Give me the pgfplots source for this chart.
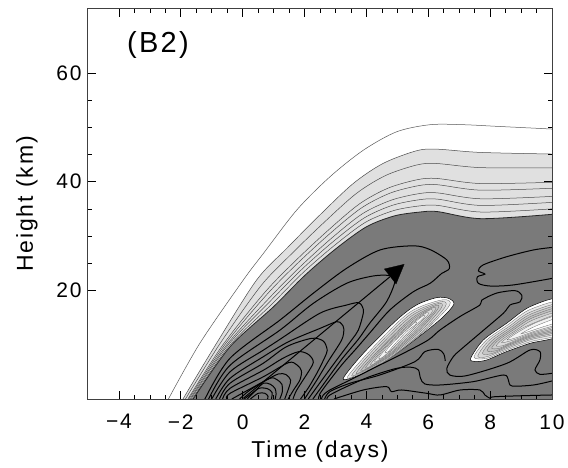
\documentclass[border=0pt]{standalone}
\usepackage{pgfplots}
\pgfplotsset{compat=1.18}
\usepackage{fontspec}
\setmainfont{Liberation Sans}[LetterSpace=8]
\definecolor{lg}{gray}{0.88}
\definecolor{dg}{gray}{0.48}
\definecolor{fr}{gray}{0.25}
\begin{document}
\begin{tikzpicture}
\path[use as bounding box] (-88pt,-68pt) rectangle (480pt,399pt);
\begin{axis}[
  at={(0pt,0pt)},anchor=south west,
  scale only axis,width=464pt,height=390pt,
  xmin=-5,xmax=10,ymin=0,ymax=71.8,
  axis on top,clip=true,
  axis line style={fr,line width=1pt},
  xtick={-4,-2,0,2,4,6,8,10},
  xticklabels={−4,−2,0,2,4,6,8,10},
  ytick={20,40,60},
  yticklabels={20,40,60},
  minor x tick num=3,minor y tick num=3,
  tick style={black,line width=0.7pt},
  major tick length=8pt,minor tick length=4pt,
  tick align=inside,
  tick label style={font=\fontsize{21}{23}\selectfont},
  xticklabel style={yshift=-12pt},
  yticklabel style={xshift=-3pt},
  xlabel={Time (days)},
  ylabel={Height (km)},
  xlabel style={font=\fontsize{23}{25}\selectfont,at={(axis description cs:.5,-.1359)},anchor=center},
  ylabel style={font=\fontsize{23}{25}\selectfont,at={(axis description cs:-.1315,.5)},anchor=center},
  every axis plot/.append style={no markers},
]
% light band
\addplot[fill=lg,draw=none,smooth] coordinates {(-1.93,0)(-.84,10.3)(.45,21.9)(1.42,27.7)(2.5,33.9)(3.58,39.7)(4.55,43.4)(5.62,45.7)(6.27,46)(7.67,45.4)(10,45.1)} \closedcycle;
% dark region
\addplot[fill=dg,draw=none,smooth] coordinates {(-1.6,0)(-.41,9.6)(1,17)(2,22.7)(3,27.6)(4,31.7)(4.9,33.7)(5.7,34.4)(6.3,34.5)(7.7,33.2)(10,34)} \closedcycle;
% outer contours
\addplot[black!65,line width=.5pt,smooth] coordinates {(-2.4,0)(-1.38,10.3)(.02,21.9)(.67,26.8)(1.75,34.8)(2.82,40.9)(3.9,45.8)(4.98,49.2)(6.06,50.5)(7.13,50.5)(8.21,50.2)(10,49.7)};
\addplot[black!70,line width=.5pt,smooth] coordinates {(-1.93,0)(-.84,10.3)(.45,21.9)(1.42,27.7)(2.5,33.9)(3.58,39.7)(4.55,43.4)(5.62,45.7)(6.27,46)(7.67,45.4)(10,45.1)};
\addplot[black!70,line width=.5pt,smooth] coordinates {(-1.85,0)(-.74,10.14)(.58,20.77)(1.55,26.55)(2.62,32.45)(3.68,37.86)(4.63,41.17)(5.64,43.1)(6.28,43.35)(7.68,42.6)(10,42.55)};
\addplot[black!70,line width=.5pt,smooth] coordinates {(-1.77,0)(-.64,9.97)(.71,19.6)(1.69,25.35)(2.74,30.94)(3.78,35.94)(4.71,38.84)(5.66,40.39)(6.28,40.6)(7.68,39.67)(10,39.9)};
\addplot[black!70,line width=.5pt,smooth] coordinates {(-1.74,0)(-.59,9.9)(.76,19.1)(1.75,24.85)(2.79,30.3)(3.82,35.1)(4.75,37.87)(5.67,39.26)(6.29,39.45)(7.69,38.45)(10,38.8)};
\addplot[black!70,line width=.5pt,smooth] coordinates {(-1.7,0)(-.54,9.81)(.84,18.47)(1.83,24.2)(2.85,29.49)(3.87,34.1)(4.8,36.6)(5.68,37.79)(6.29,37.95)(7.69,36.86)(10,37.3)};
\addplot[black!70,line width=.5pt,smooth] coordinates {(-1.67,0)(-.5,9.74)(.89,18)(1.88,23.7)(2.9,28.86)(3.92,33.3)(4.83,35.64)(5.68,36.66)(6.29,36.8)(7.69,35.64)(10,36.2)};
\addplot[black!70,line width=.5pt,smooth] coordinates {(-1.63,0)(-.45,9.67)(.95,17.5)(1.94,23.2)(2.95,28.2)(3.96,32.5)(4.87,34.67)(5.69,35.53)(6.3,35.65)(7.7,34.42)(10,35)};
\addplot[black!85,line width=.8pt,smooth] coordinates {(-1.6,0)(-.41,9.6)(1,17)(2,22.7)(3,27.6)(4,31.7)(4.9,33.7)(5.7,34.4)(6.3,34.5)(7.7,33.2)(10,34)};
% lobe 1
\pgfplotsset{lob/.style={draw=black!60,line width=.3pt,smooth cycle}}
\addplot[fill=white,draw=black,line width=.5pt,smooth cycle] coordinates {(3.25,3.8)(3.9,8.41)(4.98,14.55)(5.62,17.31)(6.27,18.66)(6.65,18.54)(6.83,17.49)(6.49,15.16)(5.84,12.09)(4.98,8.41)(4.12,5.34)(3.58,3.99)};
\addplot[lob,fill=black!10] coordinates {(3.4,4.2)(4.35,10.3)(5.42,16.05)(6.45,18.25)(6.69,17.25)(5.82,12.2)(4.62,7)(3.67,4.35)};
\addplot[lob,fill=black!16] coordinates {(3.55,4.6)(4.4,10.1)(5.45,15.7)(6.4,17.9)(6.55,17)(5.8,12.3)(4.65,7.2)(3.75,4.7)};
\addplot[lob,fill=black!22] coordinates {(3.7,5.05)(4.47,10)(5.47,15.35)(6.32,17.55)(6.42,16.75)(5.75,12.45)(4.67,7.5)(3.85,5.05)};
\addplot[lob,fill=black!25] coordinates {(3.85,5.5)(4.55,9.9)(5.5,15)(6.25,17.2)(6.3,16.5)(5.7,12.6)(4.7,7.8)(3.95,5.4)};
\addplot[lob,fill=black!20] coordinates {(4,6)(4.6,9.9)(5.5,14.65)(6.15,16.8)(6.2,16.15)(5.65,12.7)(4.75,8.2)(4.1,5.95)};
\addplot[lob,fill=black!15] coordinates {(4.15,6.5)(4.65,9.9)(5.5,14.3)(6.05,16.4)(6.1,15.8)(5.6,12.8)(4.8,8.6)(4.25,6.5)};
\addplot[lob,fill=black!10] coordinates {(4.27,7.05)(4.7,9.95)(5.47,13.95)(5.95,15.9)(5.97,15.35)(5.52,12.8)(4.82,8.95)(4.37,7.05)};
\addplot[lob,fill=black!5] coordinates {(4.4,7.6)(4.75,10)(5.45,13.6)(5.85,15.4)(5.85,14.9)(5.45,12.8)(4.85,9.3)(4.5,7.6)};
\addplot[lob,fill=white] coordinates {(4.6,8.6)(4.85,10.3)(5.35,13)(5.6,14.2)(5.6,13.8)(5.3,12.4)(4.9,10)(4.7,8.7)};
% lobe 2
\addplot[fill=white,draw=black,line width=.5pt,smooth cycle] coordinates {(7.37,7.49)(7.78,10.86)(8.53,13.93)(9.29,17)(10.3,18.4)(10.3,12)(9.29,10.25)(8.53,8.72)(7.89,7.18)(7.51,6.9)};
\addplot[lob,fill=black!10] coordinates {(7.48,7.7)(7.87,10.78)(8.56,13.6)(9.3,16.5)(10.4,18)(10.4,12.35)(9.3,10.55)(8.54,9)(7.9,7.5)};
\addplot[lob,fill=black!16] coordinates {(7.6,7.9)(7.95,10.7)(8.6,13.3)(9.3,16)(10.4,17.6)(10.4,12.7)(9.3,10.9)(8.55,9.3)(7.9,7.8)};
\addplot[lob,fill=black!22] coordinates {(7.75,8.4)(8.05,10.7)(8.65,13.1)(9.32,15.65)(10.4,17.3)(10.4,12.95)(9.3,11.15)(8.57,9.6)(8.05,8.35)};
\addplot[lob,fill=black!25] coordinates {(7.9,8.9)(8.15,10.7)(8.7,12.9)(9.35,15.3)(10.4,17)(10.4,13.2)(9.3,11.4)(8.6,9.9)(8.2,8.9)};
\addplot[lob,fill=black!20] coordinates {(8.05,9.35)(8.27,10.85)(8.77,12.8)(9.37,14.95)(10.4,16.65)(10.4,13.45)(9.32,11.65)(8.67,10.25)(8.3,9.35)};
\addplot[lob,fill=black!15] coordinates {(8.2,9.8)(8.4,11)(8.85,12.7)(9.4,14.6)(10.4,16.3)(10.4,13.7)(9.35,11.9)(8.75,10.6)(8.4,9.8)};
\addplot[lob,fill=black!10] coordinates {(8.37,10.35)(8.65,11.65)(9.17,13.4)(10.4,16.05)(10.4,13.95)(9.37,12.15)(8.8,10.95)};
\addplot[lob,fill=black!5] coordinates {(8.55,10.9)(8.9,12.3)(9.5,14.1)(10.4,15.8)(10.4,14.2)(9.4,12.4)(8.85,11.3)};
\addplot[lob,fill=white] coordinates {(9,12)(9.5,13.5)(10.4,15.4)(10.4,14.6)(9.5,12.9)};
% arches
\pgfplotsset{cont/.style={black,line width=1pt,smooth}}
\addplot[cont] coordinates {(-1.22,0)(-.41,7.5)(1.21,14.55)(2.28,19.46)(3.36,24.06)(4.44,27.44)(5.52,28.2)(6.06,27.5)(6.6,25.6)(6.68,24)(6.43,23.1)(6.06,21.3)(5.52,19.76)(4.76,16.4)(4.1,12.1)(3.66,9.2)(3.25,6.6)(2.82,3.5)(2.5,1)(2.45,0)};
\addplot[cont] coordinates {(-1.1,0)(-.41,6.2)(1.21,12.7)(2.28,17.6)(3.36,21.3)(4.22,22.65)(4.76,22.7)(4.92,21.6)(4.65,17.9)(4.1,13.9)(3.74,11)(3.2,7.3)(2.7,3.4)(2.27,0)};
\addplot[cont] coordinates {(-1,0)(-.41,5)(.67,9)(1.21,11)(2.5,15.8)(3.36,17.3)(3.74,17.74)(3.87,17)(3.9,15.8)(3.74,12.7)(3.52,10.86)(2.95,6.5)(2.5,3)(2.12,0)};
\addplot[cont] coordinates {(-.87,0)(-.41,3.8)(.67,7.8)(1.5,10.6)(2.5,13)(3.04,14.24)(3.2,13.8)(3.27,12.9)(3.2,10.86)(2.75,6.8)(2.4,3.5)(2,0)};
\addplot[cont] coordinates {(-.75,0)(-.41,2.9)(.67,6.6)(1.42,9.64)(2.23,11.17)(2.6,10.7)(2.72,9.4)(2.71,8.4)(2.45,5.3)(2.15,2.3)(1.87,0)};
\addplot[cont] coordinates {(-.65,0)(-.41,1.96)(.67,5.3)(1.3,7.5)(1.8,8.7)(2.1,8.3)(2.27,7.2)(2.23,6)(1.75,1.66)(1.63,0)};
\addplot[cont] coordinates {(-.52,0)(-.41,1.04)(.67,4.1)(1.48,6.69)(1.75,6.3)(1.9,5.2)(1.85,3.5)(1.65,1.7)(1.47,0)};
\addplot[cont] coordinates {(-.35,0)(.67,3.2)(1.15,4.6)(1.4,4.5)(1.55,3.5)(1.5,2.2)(1.36,0)};
\addplot[cont] coordinates {(-.1,0)(.24,1.66)(.88,3.8)(1.1,3.6)(1.27,2.7)(1.28,1.3)(1.2,0)};
\addplot[cont] coordinates {(.05,0)(.4,1.5)(.67,2.9)(.9,2.7)(1.05,1.9)(1.08,.9)(1.05,0)};
\addplot[cont] coordinates {(.15,0)(.5,1.9)(.8,1.9)(.95,1.2)(.93,0)};
\addplot[cont] coordinates {(.25,0)(.5,1.05)(.72,1.05)(.82,.5)(.8,0)};
% lower and right contours
\addplot[cont] coordinates {(2.55,0)(2.6,.7)(2.82,1.66)(3.47,3.5)(4.22,5.65)(5.3,8.72)(6,10.87)(6.38,12.7)(7.03,15.2)(7.67,17.3)(7.73,18.2)(8.21,19.5)(8.8,19.95)(9.02,19.15)(8.97,17.9)(8.64,17.3)(8.43,15.8)(7.67,12.1)(7.03,9)(6.81,7.8)(6.6,5.65)(6.7,4.4)(7.24,4.3)(8.54,6.57)(9.29,9.03)(9.61,8.72)(9.61,7.2)(9.45,5.35)(9.61,4.55)(10,4.73)};
\addplot[cont] coordinates {(2.65,0)(2.82,1.36)(3.47,2.9)(4.44,4.43)(5.57,6.88)(5.89,8.72)(6.32,9.15)(6.5,8.3)(6.55,7)};
\addplot[cont] coordinates {(2.72,0)(2.82,.74)(3.36,2.28)(4.11,4.12)(4.98,5.65)(5.46,5.84)(5.68,5.35)(5.75,3.81)(5.89,2.77)(6.38,2.58)(7.46,3.2)(8.43,4.42)(8.59,3.5)(8.7,2.4)(9.4,2.58)(10,3.32)};
\addplot[cont] coordinates {(2.95,0)(3.9,1.66)(4.65,2.28)(4.81,1.36)(5.14,1.66)(5.95,1.05)(6.38,.74)(7.03,1.66)(7.67,1.66)(7.83,.74)(8,.13)(8.1,.4)(9,.6)(10,.74)};
\addplot[cont] coordinates {(10,22.2)(8.75,21)(8,20.8)(7.62,21.3)(7.59,22.5)(7.83,23)(7.62,23.6)(7.78,24.7)(8.54,26.2)(9.4,27.44)(10,27.9)};
% arrow
\addplot[black,line width=1pt] coordinates {(0.02,.12)(4.76,22.5)};
\addplot[fill=black,draw=black,line width=.3pt] coordinates {(5.22,24.8)(4.58,23.94)(4.96,21.18)} --cycle;
\node[font=\fontsize{29}{32}\selectfont] at (axis cs:-2.74,65.2) {(B2)};
\end{axis}
\end{tikzpicture}
\end{document}
